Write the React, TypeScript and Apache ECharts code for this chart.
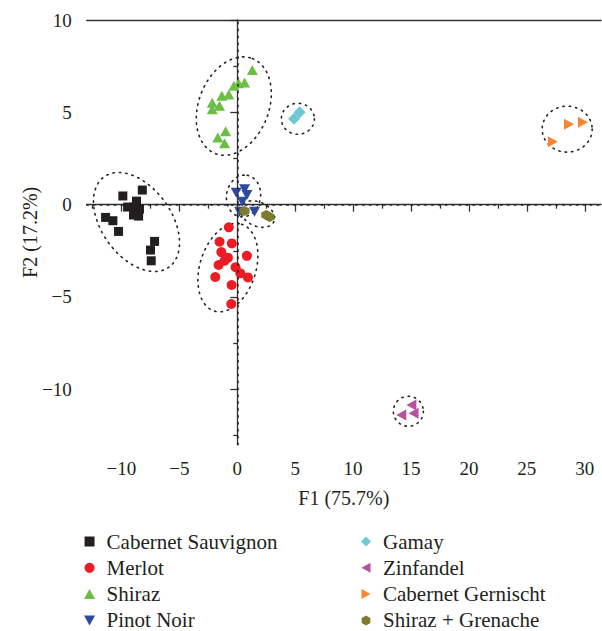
import React, { useEffect, useRef } from "react";
import * as echarts from "echarts";

// ---- data (F1, F2 scores) ----
const cabernetSauvignon = [
  [-9.88, 0.47], [-8.2, 0.79], [-8.7, 0.19], [-9.47, -0.13], [-8.87, -0.13], [-8.44, -0.24],
  [-8.96, -0.56], [-8.52, -0.62], [-11.37, -0.69], [-10.74, -0.87], [-10.25, -1.45],
  [-7.14, -1.99], [-7.49, -2.46], [-7.43, -3.04],
];
const merlot = [
  [-0.73, -1.23], [-1.53, -2.01], [-0.47, -2.1], [-1.38, -2.57], [-0.81, -2.87], [-1.1, -3.04],
  [0.83, -2.77], [-1.61, -3.27], [-0.15, -3.39], [0.26, -3.72], [0.92, -3.94], [-1.9, -3.92],
  [-0.49, -4.35], [-0.52, -5.38],
];
const shiraz = [
  [1.3, 7.29], [0.63, 6.62], [0.11, 6.57], [-0.29, 6.44], [-0.73, 5.97], [-1.33, 5.9],
  [-1.53, 5.35], [-2.16, 5.52], [-2.16, 5.16], [-1.01, 3.98], [-1.68, 3.64], [-1.1, 3.32],
];
const pinotNoir = [[-0.09, 0.64], [0.63, 0.83], [0.83, 0.52], [0.43, 0.16], [0.2, -0.38], [1.49, -0.38]];
const gamay = [[5.38, 5.01], [4.9, 4.65]];
const zinfandel = [[15.03, -10.85], [14.16, -11.39], [15.22, -11.3]];
const cabernetGernischt = [[28.64, 4.36], [29.84, 4.46], [27.25, 3.41]];
const shirazGrenache = [[0.63, -0.35], [2.5, -0.56], [2.79, -0.67]];

const seriesNames = [
  "Cabernet Sauvignon", "Merlot", "Shiraz", "Pinot Noir",
  "Gamay", "Zinfandel", "Cabernet Gernischt", "Shiraz + Grenache",
];
const seriesData = [cabernetSauvignon, merlot, shiraz, pinotNoir, gamay, zinfandel, cabernetGernischt, shirazGrenache];

// group ellipse centres (data units)
const ellipseCenters = [
  [-8.7, -0.94], [-0.3, 5.34], [-0.81, -3.41], [0.54, 0.47],
  [1.75, -0.51], [5.23, 4.65], [28.48, 4.09], [14.77, -11.19],
];

const xMajorTicks = [-10, -5, 0, 5, 10, 15, 20, 25, 30];
const xMinorTicks = [-12.5, -7.5, -2.5, 2.5, 7.5, 12.5, 17.5, 22.5, 27.5];
const yMajorTicks = [-10, -5, 0, 5, 10];
const yMinorTicks = [-12.5, -7.5, -2.5, 2.5, 7.5];

// ---- styles ----
const ellipseShapes = [
  { a: 55.6, b: 34.8, angle: 54.3 },
  { a: 51, b: 35, angle: -68.6 },
  { a: 45.5, b: 28, angle: -72.5 },
  { a: 21, b: 17, angle: -80 },
  { a: 18, b: 12, angle: 25 },
  { a: 16.5, b: 15.5, angle: 0 },
  { a: 25, b: 23, angle: 0 },
  { a: 15, b: 15, angle: 0 },
];
const colors = ["#231f20", "#ec1c24", "#6cbe45", "#2e4a9e", "#6dcad4", "#b5519d", "#f58634", "#7d7c2e"];
const symbols = [
  "path://M0,0 L10,0 L10,10 L0,10 Z",
  "circle",
  "path://M5,0 L10,9 L0,9 Z",
  "path://M0,0 L10,0 L5,9 Z",
  "path://M5,0 L10,5 L5,10 L0,5 Z",
  "path://M0,5 L9,0 L9,10 Z",
  "path://M0,0 L9,5 L0,10 Z",
  "path://M5,0 L9.33,2.5 L9.33,7.5 L5,10 L0.67,7.5 L0.67,2.5 Z",
];
const symbolSizes: any[] = [9, 10, [11, 10], [11, 10], 12, [10, 11], [10, 11], 10];

const FONT = "'Liberation Serif', 'DejaVu Serif', serif";
const AXIS_COLOR = "#333";
const TEXT_COLOR = "#231f20";

const fmt = (v: number) => (v < 0 ? "\u2212" + Math.abs(v) : String(v));

export default function App() {
  const ref = useRef<HTMLDivElement>(null);
  useEffect(() => {
    if (!ref.current) return;
    const chart = echarts.init(ref.current, null, { renderer: "svg" });
    const gridRect = { left: 86.7, top: 20, right: 1, bottom: 186.3 };
    const axisLine = { show: true, lineStyle: { color: AXIS_COLOR, width: 1.3 } };
    const scatterSeries = seriesData.map((d, i) => ({
      type: "scatter",
      name: seriesNames[i],
      data: d,
      xAxisIndex: 0,
      yAxisIndex: 0,
      symbol: symbols[i],
      symbolSize: symbolSizes[i],
      itemStyle: { color: colors[i], opacity: 1 },
      z: 3,
      ...(i === 0
        ? {
            markLine: {
              silent: true,
              symbol: "none",
              label: { show: false },
              lineStyle: { color: "#222", type: [1.4, 5.5], width: 1.6, cap: "round" },
              data: [{ xAxis: 0 }, { yAxis: 0 }],
            },
          }
        : {}),
    }));
    const legendCommon = {
      orient: "vertical", top: 531, height: 120,
      itemWidth: 24, itemHeight: 10, itemGap: 5.3, padding: 0,
      symbolKeepAspect: true,
      textStyle: { fontSize: 21, fontFamily: FONT, color: TEXT_COLOR },
      selectedMode: false,
    };
    const option: any = {
      animation: false,
      grid: [
        { ...gridRect },
        { ...gridRect },
      ],
      xAxis: [
        {
          type: "value", gridIndex: 0, min: -13, max: 31.4, position: "bottom",
          axisLine,
          axisTick: { show: true, customValues: xMajorTicks, length: 7, lineStyle: { color: AXIS_COLOR, width: 1.3 } },
          axisLabel: { customValues: xMajorTicks, formatter: fmt, margin: 14, fontSize: 19, fontFamily: FONT, color: TEXT_COLOR },
          splitLine: { show: false },
          name: "F1 (75.7%)", nameLocation: "middle", nameGap: 43, nameMoveOverlap: false,
          nameTextStyle: { fontSize: 20, fontFamily: FONT, color: TEXT_COLOR },
        },
        {
          type: "value", gridIndex: 1, min: -13, max: 31.4, position: "bottom",
          axisLine: { show: false },
          axisTick: { show: true, customValues: xMinorTicks, length: 4, lineStyle: { color: AXIS_COLOR, width: 1.3 } },
          axisLabel: { show: false },
          splitLine: { show: false },
        },
        {
          type: "value", gridIndex: 1, min: -13, max: 31.4, position: "top",
          axisLine,
          axisTick: { show: false },
          axisLabel: { show: false },
          splitLine: { show: false },
        },
      ],
      yAxis: [
        {
          type: "value", gridIndex: 0, min: -13, max: 10, position: "left",
          axisLine,
          axisTick: { show: true, customValues: yMajorTicks, length: 7, lineStyle: { color: AXIS_COLOR, width: 1.3 } },
          axisLabel: { customValues: yMajorTicks, formatter: fmt, margin: 15, fontSize: 19, fontFamily: FONT, color: TEXT_COLOR },
          splitLine: { show: false },
          name: "F2 (17.2%)", nameLocation: "middle", nameGap: 47, nameMoveOverlap: false,
          nameTextStyle: { fontSize: 20, fontFamily: FONT, color: TEXT_COLOR },
        },
        {
          type: "value", gridIndex: 1, min: -13, max: 10, position: "left",
          axisLine: { show: false },
          axisTick: { show: true, customValues: yMinorTicks, length: 4, lineStyle: { color: AXIS_COLOR, width: 1.3 } },
          axisLabel: { show: false },
          splitLine: { show: false },
        },
      ],
      legend: [
        { ...legendCommon, data: seriesNames.slice(0, 4), left: 84 },
        { ...legendCommon, data: seriesNames.slice(4), left: 361 },
      ],
      series: [
        {
          type: "custom",
          name: "ellipses",
          xAxisIndex: 0,
          yAxisIndex: 0,
          silent: true,
          z: 2,
          data: ellipseCenters,
          encode: { x: 0, y: 1 },
          renderItem: (params: any, api: any) => {
            const s = ellipseShapes[params.dataIndex];
            const c = api.coord([api.value(0), api.value(1)]);
            const phi = (s.angle * Math.PI) / 180;
            const ux = Math.cos(phi);
            const uy = Math.sin(phi);
            const pts: number[][] = [];
            for (let k = 0; k <= 120; k++) {
              const t = (k / 120) * Math.PI * 2;
              const ca = s.a * Math.cos(t);
              const sb = s.b * Math.sin(t);
              pts.push([c[0] + ca * ux - sb * uy, c[1] + ca * uy + sb * ux]);
            }
            return {
              type: "polyline",
              shape: { points: pts },
              style: { fill: "none", stroke: "#222", lineWidth: 1.6, lineDash: [1.4, 5], lineCap: "round" },
            };
          },
        },
        ...scatterSeries,
      ],
    };
    chart.setOption(option);
    return () => chart.dispose();
  }, []);
  return <div ref={ref} style={{ position: "absolute", left: 0, top: 0, width: 602, height: 631 }} />;
}
